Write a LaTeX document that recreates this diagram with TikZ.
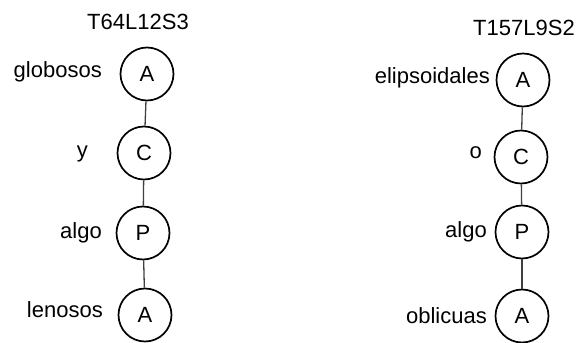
\documentclass[tikz,border=0pt]{standalone}
\usepackage{fontspec}
\setmainfont{Liberation Sans}

\tikzset{
	cnode/.style={circle, draw, line width=1.7pt, minimum size=53pt, inner sep=0pt, font=\fontsize{22}{26}\selectfont},
	wlabel/.style={anchor=base east, inner sep=0pt, font=\fontsize{22}{26}\selectfont},
	ttitle/.style={anchor=base, inner sep=0pt, font=\fontsize{22}{26}\selectfont},
	link/.style={draw=black!75, line width=1.3pt},
}

\begin{document}
\begin{tikzpicture}[x=1pt, y=-1pt]
	\useasboundingbox (0,0) rectangle (579,343);

	% first sentence
	\node[ttitle] (t1) at (138,29) {T64L12S3};
	\node[cnode] (la) at (147,74) {A};
	\node[cnode] (lc) at (144,153) {C};
	\node[cnode] (lp) at (143,233) {P};
	\node[cnode] (lb) at (145,315) {A};
	\node[wlabel] (wla) at (102,77) {globosos};
	\node[wlabel] (wlc) at (88,157) {y};
	\node[wlabel] (wlp) at (102,238) {algo};
	\node[wlabel] (wlb) at (103,317) {lenosos};
	\draw[link] (la) -- (lc);
	\draw[link] (lc) -- (lp);
	\draw[link] (lp) -- (lb);

	% second sentence
	\node[ttitle] (t2) at (524,35) {T157L9S2};
	\node[cnode] (ra) at (523,80) {A};
	\node[cnode] (rc) at (521,157) {C};
	\node[cnode] (rp) at (522,232) {P};
	\node[cnode] (rb) at (522,316) {A};
	\node[wlabel] (wra) at (490,83) {elipsoidales};
	\node[wlabel] (wrc) at (482,158) {o};
	\node[wlabel] (wrp) at (487,237) {algo};
	\node[wlabel] (wrb) at (487,323) {oblicuas};
	\draw[link] (ra) -- (rc);
	\draw[link] (rc) -- (rp);
	\draw[link] (rp) -- (rb);
\end{tikzpicture}
\end{document}
